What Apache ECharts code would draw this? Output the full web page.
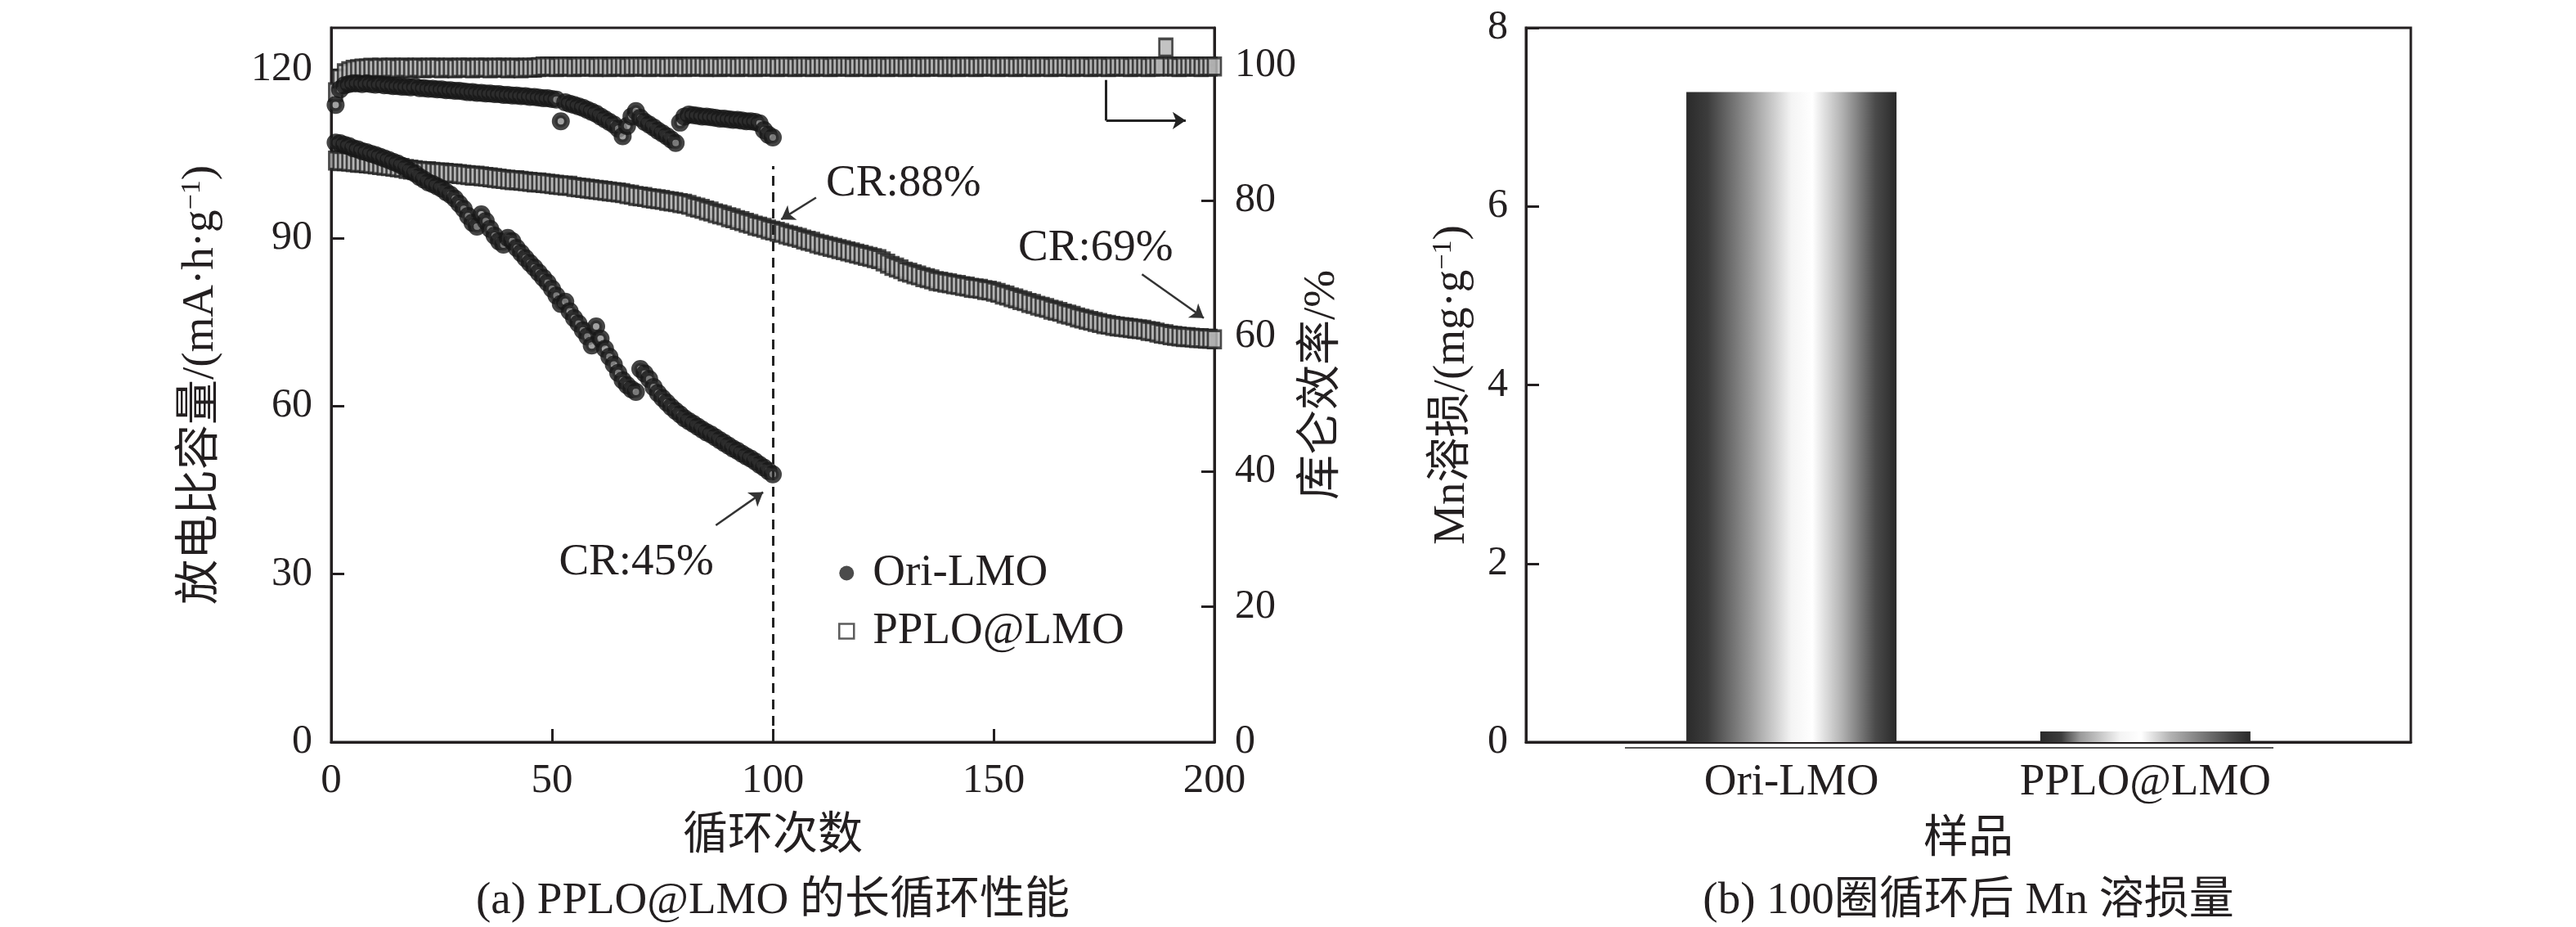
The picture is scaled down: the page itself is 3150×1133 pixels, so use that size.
<!DOCTYPE html>
<html>
<head>
<meta charset="utf-8">
<script src="https://cdn.jsdelivr.net/npm/echarts@6/dist/echarts.min.js"></script>
<style>
html, body { margin: 0; padding: 0; background: #fff; }
#main { width: 3150px; height: 1133px; }
</style>
</head>
<body>
<div id="main"></div>
<script>
// 放电比容量 Ori-LMO (1-100圈)
var oriCap = [
  107.0, 106.9, 106.6, 106.4, 106.0, 105.8, 105.5, 105.3, 105.0, 104.8,
  104.5, 104.2, 103.9, 103.6, 103.3, 102.9, 102.4, 101.9, 101.5, 100.9,
  100.4, 99.9, 99.6, 99.2, 98.8, 98.2, 97.7, 97.0, 96.1, 95.2,
  93.9, 92.7, 92.0, 94.2, 93.0, 91.6, 90.4, 89.4, 88.8, 90.0,
  89.4, 88.2, 87.3, 86.4, 85.5, 84.7, 83.8, 82.9, 82.0, 80.9,
  79.7, 78.2, 78.6, 76.9, 75.7, 74.7, 73.5, 72.4, 70.8, 74.2,
  72.0, 70.2, 68.8, 67.4, 65.9, 64.6, 63.7, 63.0, 62.5, 66.6,
  65.8, 64.8, 63.4, 62.3, 61.4, 60.6, 59.8, 59.1, 58.5, 57.8,
  57.3, 56.8, 56.3, 55.8, 55.3, 54.9, 54.4, 53.9, 53.4, 52.9,
  52.4, 52.0, 51.5, 51.0, 50.6, 50.1, 49.5, 49.0, 48.4, 47.8
];
// 库仑效率 Ori-LMO
var oriCE = [
  94.1, 96.4, 97.0, 97.2, 97.3, 97.3, 97.2, 97.3, 97.2, 97.1,
  97.2, 97.0, 97.0, 96.9, 96.9, 96.8, 96.8, 96.7, 96.8, 96.6,
  96.6, 96.5, 96.5, 96.4, 96.4, 96.3, 96.3, 96.2, 96.2, 96.1,
  96.0, 96.0, 95.9, 95.9, 95.8, 95.8, 95.7, 95.7, 95.6, 95.6,
  95.5, 95.5, 95.4, 95.4, 95.3, 95.3, 95.2, 95.1, 95.1, 95.0,
  94.9, 91.7, 94.5, 94.3, 94.1, 93.9, 93.7, 93.4, 93.1, 92.8,
  92.4, 92.0, 91.6, 91.2, 90.6, 89.5, 91.0, 92.4, 93.2, 92.2,
  91.6, 91.2, 90.8, 90.3, 89.9, 89.5, 89.0, 88.5, 91.5, 92.4,
  92.7, 92.6, 92.5, 92.4, 92.4, 92.3, 92.2, 92.1, 92.1, 92.0,
  91.9, 91.9, 91.8, 91.7, 91.7, 91.6, 91.4, 90.4, 89.7, 89.3
];
// 放电比容量 PPLO@LMO (1-200圈)
var pploCap = [
  103.8, 103.7, 103.7, 103.6, 103.5, 103.4, 103.4, 103.3, 103.2, 103.1,
  103.0, 102.9, 102.8, 102.7, 102.6, 102.5, 102.3, 102.2, 102.1, 102.0,
  101.9, 101.9, 101.8, 101.7, 101.7, 101.6, 101.5, 101.5, 101.4, 101.3,
  101.2, 101.1, 101.1, 101.0, 100.9, 100.8, 100.7, 100.6, 100.5, 100.4,
  100.3, 100.3, 100.2, 100.1, 100.0, 99.9, 99.9, 99.8, 99.7, 99.6,
  99.5, 99.4, 99.3, 99.3, 99.1, 99.0, 98.9, 98.8, 98.7, 98.6,
  98.5, 98.4, 98.3, 98.2, 98.1, 98.0, 97.8, 97.7, 97.5, 97.4,
  97.3, 97.1, 97.0, 96.9, 96.8, 96.6, 96.5, 96.4, 96.2, 96.1,
  95.9, 95.6, 95.4, 95.2, 94.9, 94.7, 94.4, 94.2, 94.0, 93.7,
  93.5, 93.2, 93.0, 92.7, 92.5, 92.2, 92.0, 91.8, 91.5, 91.3,
  91.1, 90.9, 90.6, 90.4, 90.2, 90.0, 89.7, 89.5, 89.3, 89.0,
  88.8, 88.6, 88.4, 88.2, 88.0, 87.8, 87.6, 87.4, 87.2, 87.0,
  86.8, 86.6, 86.4, 86.2, 85.8, 85.4, 85.0, 84.7, 84.4, 84.0,
  83.8, 83.5, 83.3, 83.0, 82.8, 82.6, 82.3, 82.2, 82.0, 81.9,
  81.7, 81.6, 81.4, 81.3, 81.1, 81.0, 80.9, 80.7, 80.6, 80.4,
  80.2, 79.9, 79.7, 79.4, 79.2, 78.9, 78.7, 78.4, 78.2, 77.9,
  77.7, 77.5, 77.2, 77.0, 76.8, 76.5, 76.3, 76.1, 75.8, 75.6,
  75.4, 75.2, 75.0, 74.8, 74.6, 74.5, 74.3, 74.2, 74.1, 74.0,
  73.9, 73.8, 73.7, 73.6, 73.4, 73.3, 73.1, 72.9, 72.8, 72.6,
  72.5, 72.4, 72.3, 72.3, 72.2, 72.1, 72.1, 72.0, 72.0, 71.9
];
// 库仑效率 PPLO@LMO
var pploCE = [
  96.0, 98.0, 98.8, 99.1, 99.3, 99.4, 99.5, 99.5, 99.6, 99.5,
  99.6, 99.5, 99.6, 99.6, 99.5, 99.6, 99.6, 99.5, 99.6, 99.6,
  99.5, 99.6, 99.6, 99.6, 99.5, 99.6, 99.6, 99.5, 99.6, 99.6,
  99.6, 99.5, 99.6, 99.6, 99.6, 99.5, 99.6, 99.6, 99.6, 99.5,
  99.6, 99.6, 99.5, 99.6, 99.6, 99.6, 99.7, 99.8, 99.8, 99.8,
  99.7, 99.8, 99.8, 99.8, 99.7, 99.8, 99.8, 99.8, 99.8, 99.7,
  99.8, 99.8, 99.7, 99.8, 99.8, 99.8, 99.7, 99.8, 99.8, 99.8,
  99.8, 99.7, 99.8, 99.8, 99.8, 99.7, 99.8, 99.8, 99.8, 99.7,
  99.8, 99.8, 99.8, 99.8, 99.7, 99.8, 99.8, 99.7, 99.8, 99.8,
  99.8, 99.7, 99.8, 99.8, 99.8, 99.7, 99.8, 99.8, 99.8, 99.8,
  99.7, 99.8, 99.8, 99.8, 99.7, 99.8, 99.8, 99.8, 99.7, 99.8,
  99.8, 99.8, 99.7, 99.8, 99.8, 99.8, 99.8, 99.7, 99.8, 99.8,
  99.8, 99.7, 99.8, 99.8, 99.8, 99.7, 99.8, 99.8, 99.8, 99.7,
  99.8, 99.8, 99.8, 99.7, 99.8, 99.8, 99.8, 99.8, 99.7, 99.8,
  99.8, 99.7, 99.8, 99.8, 99.8, 99.7, 99.8, 99.8, 99.8, 99.8,
  99.7, 99.8, 99.8, 99.8, 99.7, 99.8, 99.8, 99.8, 99.7, 99.8,
  99.8, 99.8, 99.7, 99.8, 99.8, 99.8, 99.8, 99.7, 99.8, 99.8,
  99.8, 99.7, 99.8, 99.8, 99.8, 99.7, 99.8, 99.8, 99.8, 99.8,
  99.7, 99.8, 99.8, 99.8, 99.7, 99.8, 99.8, 99.8, 102.6, 99.8,
  99.8, 99.7, 99.8, 99.8, 99.8, 99.8, 99.7, 99.8, 99.8, 99.8
];
// 100圈后 Mn 溶损量
var barCats = ['Ori-LMO', 'PPLO@LMO'];
var barPos = [1, 2];
var barVals = [7.28, 0.12];

// 标注 (数据坐标)
var crTexts = [
  { name: 'CR:88%', coord: [129.6, 99.6] },
  { name: 'CR:69%', coord: [173.1, 88.2] },
  { name: 'CR:45%', coord: [69.1, 32.1] }
];
var crArrows = [
  [[109.8, 97.2], [101.9, 93.3]],
  [[183.6, 83.5], [197.6, 75.7]],
  [[87.1, 38.7], [97.8, 44.6]]
];
var dashTop = 102.8;
var ceArrow = [[175.5, 97.8], [175.5, 91.8], [193.5, 91.8]];

var FONT = "'Liberation Serif', 'Noto Sans CJK SC', serif";
var INK = '#231f20';

var myChart = echarts.init(document.getElementById('main'));

function pairs(arr) {
  return arr.map(function (v, i) { return [i + 1, v]; });
}

function txt(size) {
  return { fontSize: size, fontFamily: FONT, color: INK };
}

function barGrad(mid) {
  return {
    type: 'linear', x: 0, y: 0, x2: 1, y2: 0,
    colorStops: [
      { offset: 0, color: '#2a2a2a' },
      { offset: 0.1, color: '#3c3c3c' },
      { offset: mid - 0.25, color: '#9a9a9a' },
      { offset: mid - 0.06, color: '#f4f4f4' },
      { offset: mid + 0.04, color: '#ffffff' },
      { offset: mid + 0.18, color: '#b2b2b2' },
      { offset: 0.9, color: '#4a4a4a' },
      { offset: 1, color: '#2a2a2a' }
    ]
  };
}

var axisLine = { show: true, lineStyle: { color: INK, width: 3 } };
var axisTick = { show: true, inside: true, length: 16, lineStyle: { color: INK, width: 3 } };
var supRich = { sup: { fontSize: 34, fontFamily: FONT, color: INK, verticalAlign: 'top' } };

var squareStyle = { color: '#b4b4b4', borderColor: '#222', borderWidth: 3 };
var circleStyle = { color: '#8a8a8a', borderColor: '#161616', borderWidth: 7 };

var markLineCap = {
  silent: true,
  symbol: ['none', 'arrow'],
  symbolSize: 16,
  label: { show: false },
  lineStyle: { color: '#333', width: 2.5, type: 'solid' },
  data: [
    [
      { coord: [100, 0], symbol: 'none', lineStyle: { type: [12, 8], width: 3, color: '#222' } },
      { coord: [100, dashTop], symbol: 'none' }
    ]
  ].concat(crArrows.map(function (a) {
    return [{ coord: a[0] }, { coord: a[1] }];
  }))
};

var markLineCE = {
  silent: true,
  symbolSize: 16,
  label: { show: false },
  lineStyle: { color: '#222', width: 3, type: 'solid' },
  data: [
    [{ coord: ceArrow[0], symbol: 'none' }, { coord: ceArrow[1], symbol: 'none' }],
    [{ coord: ceArrow[1], symbol: 'none' }, { coord: ceArrow[2], symbol: 'arrow' }]
  ]
};

var option = {
  animation: false,
  backgroundColor: '#fff',
  grid: [
    { left: 405, top: 34, width: 1080, height: 873, show: true, borderColor: INK, borderWidth: 3, backgroundColor: 'transparent' },
    { left: 1866, top: 34, width: 1082, height: 873, show: true, borderColor: INK, borderWidth: 3, backgroundColor: 'transparent' }
  ],
  legend: {
    data: [
      { name: 'Ori-LMO', icon: 'circle', itemStyle: { color: '#1e1e1e', borderWidth: 0 } },
      { name: 'PPLO@LMO', icon: 'rect', itemStyle: { color: '#ffffff', borderColor: '#333', borderWidth: 2.5 } }
    ],
    orient: 'vertical',
    left: 1020,
    top: 668,
    itemWidth: 18,
    itemHeight: 18,
    itemGap: 16,
    selectedMode: false,
    textStyle: { fontSize: 55, fontFamily: FONT, color: INK, padding: [0, 0, 0, 18] }
  },
  xAxis: [
    {
      gridIndex: 0, type: 'value', min: 0, max: 200, interval: 50,
      axisLine: axisLine, axisTick: axisTick, splitLine: { show: false },
      axisLabel: { fontSize: 51, fontFamily: FONT, color: INK, margin: 22 },
      name: '循环次数', nameLocation: 'middle', nameGap: 88, nameTextStyle: txt(55)
    },
    {
      gridIndex: 1, type: 'value', min: 0.25, max: 2.75, interval: 0.25,
      axisLine: axisLine, axisTick: { show: false }, splitLine: { show: false },
      axisLabel: {
        fontSize: 55, fontFamily: FONT, color: INK, margin: 22,
        formatter: function (v) {
          for (var i = 0; i < barPos.length; i++) {
            if (Math.abs(v - barPos[i]) < 1e-6) return barCats[i];
          }
          return '';
        }
      },
      name: '样品', nameLocation: 'middle', nameGap: 92, nameTextStyle: txt(55)
    }
  ],
  yAxis: [
    {
      gridIndex: 0, type: 'value', position: 'left', min: 0, max: 127.5, interval: 30,
      axisLine: axisLine, axisTick: axisTick, splitLine: { show: false },
      axisLabel: { fontSize: 50, fontFamily: FONT, color: INK, margin: 23, showMaxLabel: false },
      name: '放电比容量/(mA·h·g{sup|−1})', nameLocation: 'middle', nameRotate: 90, nameGap: 132,
      nameTextStyle: { fontSize: 55, fontFamily: FONT, color: INK, rich: supRich }
    },
    {
      gridIndex: 0, type: 'value', position: 'right', min: 0, max: 105.5, interval: 20,
      axisLine: axisLine, axisTick: axisTick, splitLine: { show: false },
      axisLabel: { fontSize: 50, fontFamily: FONT, color: INK, margin: 25, showMaxLabel: false },
      name: '库仑效率/%', nameLocation: 'middle', nameRotate: 90, nameGap: 98, nameTextStyle: txt(55)
    },
    {
      gridIndex: 1, type: 'value', position: 'left', min: 0, max: 8, interval: 2,
      axisLine: axisLine, axisTick: axisTick, splitLine: { show: false },
      axisLabel: { fontSize: 50, fontFamily: FONT, color: INK, margin: 22 },
      name: 'Mn溶损/(mg·g{sup|−1})', nameLocation: 'middle', nameRotate: 90, nameGap: 63,
      nameTextStyle: { fontSize: 55, fontFamily: FONT, color: INK, rich: supRich }
    }
  ],
  series: [
    {
      name: 'PPLO@LMO', type: 'scatter', xAxisIndex: 0, yAxisIndex: 0,
      data: pairs(pploCap), symbol: 'rect', symbolSize: [16, 21], itemStyle: squareStyle,
      markLine: markLineCap,
      markPoint: {
        silent: true, symbol: 'circle', symbolSize: 1,
        itemStyle: { color: 'rgba(0,0,0,0)' },
        label: { show: true, position: 'inside', formatter: '{b}', fontSize: 55, fontFamily: FONT, color: INK },
        data: crTexts
      }
    },
    {
      name: 'PPLO@LMO', type: 'scatter', xAxisIndex: 0, yAxisIndex: 1,
      data: pairs(pploCE), symbol: 'rect', symbolSize: [16, 21], itemStyle: squareStyle,
      markLine: markLineCE
    },
    {
      name: 'Ori-LMO', type: 'scatter', xAxisIndex: 0, yAxisIndex: 0,
      data: pairs(oriCap), symbol: 'circle', symbolSize: 15, itemStyle: circleStyle
    },
    {
      name: 'Ori-LMO', type: 'scatter', xAxisIndex: 0, yAxisIndex: 1,
      data: pairs(oriCE), symbol: 'circle', symbolSize: 15, itemStyle: circleStyle
    },
    {
      name: 'Mn', type: 'bar', xAxisIndex: 1, yAxisIndex: 2, barWidth: 257,
      data: barVals.map(function (v, i) {
        return { value: [barPos[i], v], itemStyle: { color: barGrad(i === 0 ? 0.56 : 0.44) } };
      })
    }
  ],
  graphic: [
    {
      type: 'text', x: 945, y: 1102,
      style: { text: '(a) PPLO@LMO 的长循环性能', font: '55px ' + FONT, fill: INK,
        align: 'center', verticalAlign: 'middle', textAlign: 'center', textVerticalAlign: 'middle' }
    },
    {
      type: 'text', x: 2407, y: 1102,
      style: { text: '(b) 100圈循环后 Mn 溶损量', font: '55px ' + FONT, fill: INK,
        align: 'center', verticalAlign: 'middle', textAlign: 'center', textVerticalAlign: 'middle' }
    },
    {
      type: 'line', shape: { x1: 1987, y1: 914, x2: 2780, y2: 914 },
      style: { stroke: '#555', lineWidth: 2 }
    }
  ]
};

myChart.setOption(option);
</script>
</body>
</html>
